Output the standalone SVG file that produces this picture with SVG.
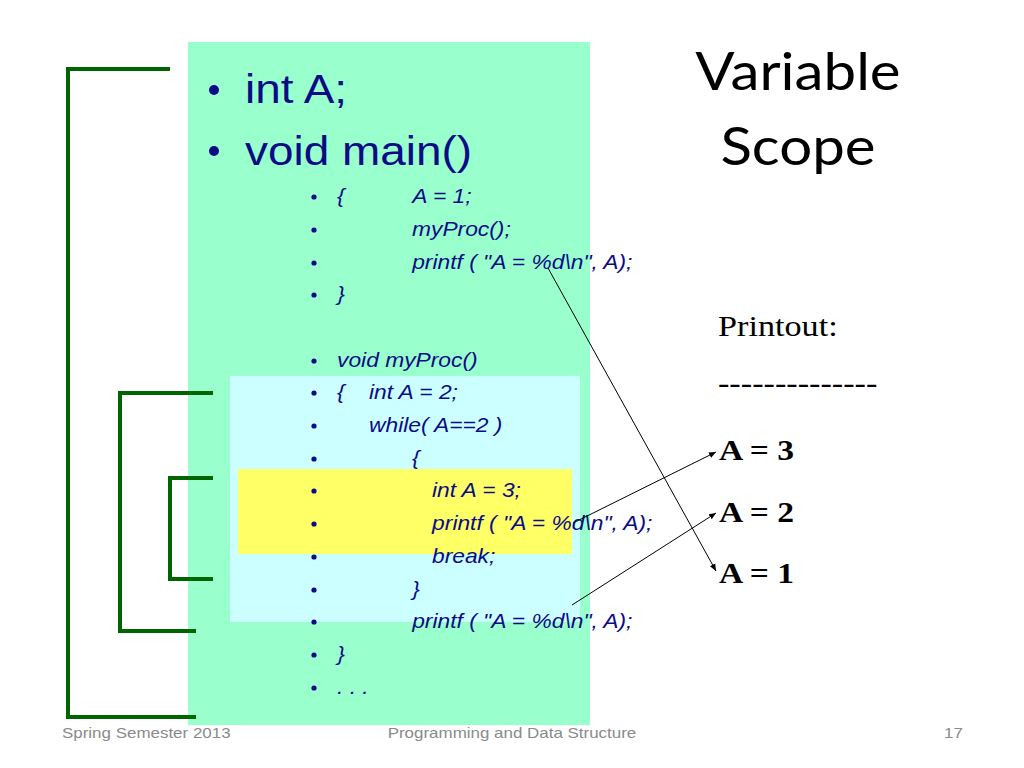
<svg xmlns="http://www.w3.org/2000/svg" width="1024" height="768" viewBox="0 0 1024 768">
<style>
text{transform-box:fill-box;transform-origin:0% 50%}
.big{font-family:"Liberation Sans",Arial,sans-serif;font-size:41px;fill:#0b0b86;transform:scaleX(1.12)}
.code{font-family:"Liberation Sans",Arial,sans-serif;font-size:20px;font-style:italic;fill:#0b0b86;transform:scaleX(1.14)}
.bul{fill:#0b0b86}
.br{fill:none;stroke:#006400;stroke-width:4}
.title{font-family:Lato,"Open Sans",sans-serif;font-size:52px;fill:#000;text-anchor:middle;transform-origin:50% 50%;transform:scaleX(1.12)}
.ser{font-family:"Liberation Serif","Times New Roman",serif;font-size:30px;fill:#000;transform:scaleX(1.14)}
.out{font-family:"Liberation Serif","Times New Roman",serif;font-size:30px;font-weight:bold;fill:#000;transform:scaleX(1.12)}
.foot{font-family:"Liberation Sans",Arial,sans-serif;font-size:15px;fill:#8a8a8a;transform:scaleX(1.13)}
.mid{text-anchor:middle;transform-origin:50% 50%}
.arr{stroke:#000;stroke-width:1;fill:none;marker-end:url(#ah)}
</style>
<defs>
<marker id="ah" markerWidth="8" markerHeight="8" refX="7" refY="4" orient="auto" markerUnits="userSpaceOnUse">
<path d="M0,1 L7,4 L0,7 Z" fill="#000"/>
</marker>
</defs>
<rect width="1024" height="768" fill="#fff"/>
<g id="scope-global"><rect x="188" y="42" width="402" height="683" fill="#99ffcc"/></g>
<g id="scope-proc"><rect x="230" y="376" width="350" height="246" fill="#ccffff"/></g>
<g id="scope-block"><rect x="238" y="469" width="334" height="85" fill="#ffff66"/></g>
<g id="brackets">
<path class="br" d="M170,69 H68 V717 H196"/>
<path class="br" d="M213,393 H120 V631 H196"/>
<path class="br" d="M213,478 H170 V579 H213"/>
</g>
<g id="code">
<circle class="bul" cx="214" cy="90" r="5"/>
<text class="big" x="245" y="103">int A;</text>
<circle class="bul" cx="214" cy="151" r="5"/>
<text class="big" x="245" y="165">void main()</text>
<g>
<circle class="bul" cx="314" cy="197" r="2.6"/><text class="code" x="337" y="203">{</text><text class="code" x="412" y="203">A = 1;</text>
<circle class="bul" cx="314" cy="230" r="2.6"/><text class="code" x="412" y="236">myProc();</text>
<circle class="bul" cx="314" cy="263" r="2.6"/><text class="code" x="412" y="269">printf ( "A = %d\n", A);</text>
<circle class="bul" cx="314" cy="295" r="2.6"/><text class="code" x="337" y="301">}</text>
<circle class="bul" cx="314" cy="361" r="2.6"/><text class="code" x="337" y="367">void myProc()</text>
<circle class="bul" cx="314" cy="393" r="2.6"/><text class="code" x="337" y="399">{</text><text class="code" x="369" y="399">int A = 2;</text>
<circle class="bul" cx="314" cy="426" r="2.6"/><text class="code" x="369" y="432">while( A==2 )</text>
<circle class="bul" cx="314" cy="459" r="2.6"/><text class="code" x="412" y="465">{</text>
<circle class="bul" cx="314" cy="491" r="2.6"/><text class="code" x="432" y="497">int A = 3;</text>
<circle class="bul" cx="314" cy="524" r="2.6"/><text class="code" x="432" y="530">printf ( "A = %d\n", A);</text>
<circle class="bul" cx="314" cy="557" r="2.6"/><text class="code" x="432" y="563">break;</text>
<circle class="bul" cx="314" cy="590" r="2.6"/><text class="code" x="412" y="596">}</text>
<circle class="bul" cx="314" cy="622" r="2.6"/><text class="code" x="412" y="628">printf ( "A = %d\n", A);</text>
<circle class="bul" cx="314" cy="655" r="2.6"/><text class="code" x="337" y="661">}</text>
<circle class="bul" cx="314" cy="688" r="2.6"/><text class="code" x="337" y="694">. . .</text>
</g>
</g>
<g id="title">
<text class="title" x="798" y="90">Variable</text>
<text class="title" x="798" y="165">Scope</text>
</g>
<g id="printout">
<text class="ser" x="718" y="336">Printout:</text>
<text class="ser" x="718" y="393">--------------</text>
<text class="out" x="719" y="460">A = 3</text>
<text class="out" x="719" y="522">A = 2</text>
<text class="out" x="719" y="583">A = 1</text>
</g>
<g id="connectors">
<line class="arr" x1="548" y1="268" x2="716" y2="571"/>
<line class="arr" x1="573" y1="523" x2="716" y2="452"/>
<line class="arr" x1="572" y1="605" x2="716" y2="513"/>
</g>
<g id="footer">
<text class="foot" x="62" y="738">Spring Semester 2013</text>
<text class="foot mid" x="512" y="738">Programming and Data Structure</text>
<text class="foot" x="944" y="738">17</text>
</g>
</svg>
